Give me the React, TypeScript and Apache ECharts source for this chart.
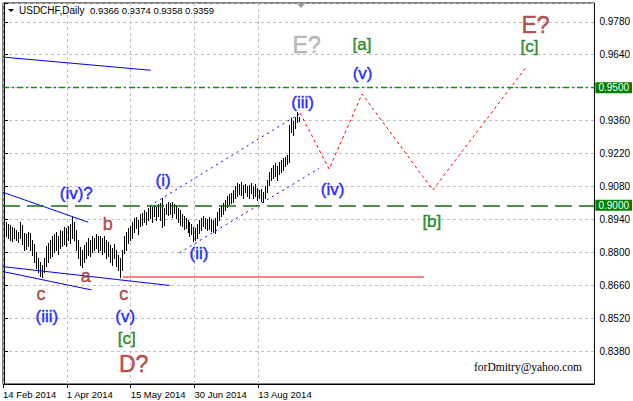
import React, { useEffect, useRef } from 'react';
import * as echarts from 'echarts';

// Daily bars (high / low), one per trading day from 14 Feb 2014
const highs = [
  0.8925, 0.8929, 0.8920, 0.8916, 0.8908, 0.8903, 0.8895, 0.8886, 0.8929, 0.8916,
  0.8882, 0.8878, 0.8886, 0.8882, 0.8852, 0.8835, 0.8801, 0.8776, 0.8759, 0.8746,
  0.8776, 0.8827, 0.8840, 0.8852, 0.8869, 0.8878, 0.8886, 0.8869, 0.8895, 0.8891,
  0.8908, 0.8903, 0.8912, 0.8920, 0.8950, 0.8929, 0.8895, 0.8852, 0.8823, 0.8810,
  0.8831, 0.8844, 0.8861, 0.8852, 0.8869, 0.8861, 0.8878, 0.8869, 0.8869, 0.8861,
  0.8869, 0.8852, 0.8844, 0.8831, 0.8818, 0.8835, 0.8810, 0.8788, 0.8776, 0.8810,
  0.8869, 0.8886, 0.8903, 0.8912, 0.8929, 0.8946, 0.8950, 0.8937, 0.8963, 0.8967,
  0.8980, 0.8971, 0.8988, 0.8997, 0.8993, 0.9001, 0.8993, 0.9005, 0.9010, 0.9031,
  0.8988, 0.9005, 0.9014, 0.9010, 0.9014, 0.9005, 0.9001, 0.8988, 0.8980, 0.8963,
  0.8954, 0.8946, 0.8937, 0.8929, 0.8920, 0.8908, 0.8903, 0.8920, 0.8937, 0.8946,
  0.8954, 0.8946, 0.8942, 0.8950, 0.8942, 0.8937, 0.8946, 0.8971, 0.8988, 0.9001,
  0.9010, 0.9022, 0.9039, 0.9048, 0.9052, 0.9065, 0.9082, 0.9095, 0.9090, 0.9099,
  0.9086, 0.9090, 0.9082, 0.9086, 0.9095, 0.9082, 0.9090, 0.9073, 0.9065, 0.9069,
  0.9056, 0.9082, 0.9107, 0.9141, 0.9158, 0.9171, 0.9180, 0.9167, 0.9184, 0.9192,
  0.9201, 0.9205, 0.9214, 0.9341, 0.9371, 0.9358, 0.9375, 0.9397, 0.9374,
];
const lows = [
  0.8891, 0.8869, 0.8861, 0.8852, 0.8848, 0.8861, 0.8852, 0.8844, 0.8861, 0.8835,
  0.8810, 0.8814, 0.8827, 0.8810, 0.8788, 0.8759, 0.8733, 0.8716, 0.8699, 0.8695,
  0.8716, 0.8742, 0.8759, 0.8776, 0.8784, 0.8801, 0.8810, 0.8793, 0.8818, 0.8827,
  0.8835, 0.8827, 0.8852, 0.8840, 0.8861, 0.8852, 0.8810, 0.8776, 0.8746, 0.8737,
  0.8759, 0.8776, 0.8788, 0.8784, 0.8801, 0.8810, 0.8818, 0.8801, 0.8810, 0.8793,
  0.8801, 0.8776, 0.8784, 0.8759, 0.8746, 0.8776, 0.8742, 0.8725, 0.8695, 0.8725,
  0.8797, 0.8810, 0.8840, 0.8852, 0.8861, 0.8886, 0.8903, 0.8878, 0.8912, 0.8916,
  0.8929, 0.8920, 0.8937, 0.8946, 0.8929, 0.8954, 0.8937, 0.8954, 0.8937, 0.8908,
  0.8916, 0.8963, 0.8959, 0.8963, 0.8950, 0.8967, 0.8946, 0.8929, 0.8916, 0.8912,
  0.8899, 0.8903, 0.8886, 0.8869, 0.8878, 0.8848, 0.8852, 0.8861, 0.8882, 0.8895,
  0.8912, 0.8903, 0.8895, 0.8899, 0.8891, 0.8886, 0.8882, 0.8916, 0.8937, 0.8954,
  0.8963, 0.8980, 0.8993, 0.9005, 0.9010, 0.9014, 0.9031, 0.9039, 0.9048, 0.9044,
  0.9031, 0.9056, 0.9039, 0.9031, 0.9052, 0.9031, 0.9039, 0.9022, 0.9031, 0.9018,
  0.9014, 0.9031, 0.9056, 0.9086, 0.9107, 0.9116, 0.9124, 0.9107, 0.9133, 0.9141,
  0.9150, 0.9167, 0.9175, 0.9184, 0.9312, 0.9299, 0.9329, 0.9354, 0.9358,
];

const dateLabels = ['14 Feb 2014', '1 Apr 2014', '15 May 2014', '30 Jun 2014', '13 Aug 2014'];
const dateLabelBars = [0, 32, 64, 96, 128];

const titleSymbol = 'USDCHF,Daily';
const titleOHLC = '0.9366 0.9374 0.9358 0.9359';
const signature = 'forDmitry@yahoo.com';

const levelA = 0.95;
const levelB = 0.9;

// solid blue trend lines (bar index, price)
const trendLines = [
  [[-0.5, 0.963], [73.5, 0.9574]],
  [[-0.5, 0.9055], [42.2, 0.8928]],
  [[-0.5, 0.8739], [83, 0.8659]],
  [[-0.5, 0.8718], [43.9, 0.864]],
];
// dotted blue channel
const channelUpper = [[73, 0.8997], [148, 0.9388]];
const channelLower = [[88, 0.8798], [158, 0.9157]];
// red support line at the May low
const supportLine = [[59.5, 0.8695], [210.5, 0.8695]];
// red dotted projection
const projection = [[148.5, 0.9392], [163, 0.9154], [179.5, 0.9473], [215, 0.9065], [261.5, 0.9584]];

// wave labels
const waveLabelText = ['E?', '(iii)', '[a]', '(v)', 'E?', '[c]', '(iv)', '[b]', '(iv)?', '(i)', 'b', 'a', 'c', '(iii)', 'c', '(v)', '[c]', 'D?', '(ii)'];
const waveLabelX = [151.75, 149.75, 179.5, 179.75, 266.5, 263.5, 164.75, 214.5, 36.25, 79.75, 52, 41, 18.5, 21.5, 60, 60.75, 61.5, 65, 97.75];
const waveLabelY = [0.9682, 0.9439, 0.9684, 0.956, 0.9767, 0.9675, 0.9065, 0.8929, 0.905, 0.9107, 0.892, 0.8699, 0.8623, 0.8525, 0.8623, 0.8529, 0.8433, 0.8325, 0.8795];
const waveLabelKind = ['grayBig', 'blue', 'green', 'blue', 'brownBig', 'green', 'blue', 'green', 'blue', 'blue', 'brown', 'brown', 'brown', 'blue', 'brown', 'blue', 'green', 'brownBig', 'blue'];

const FONT = '"Liberation Sans", Arial, sans-serif';
const kindStyle: Record<string, { color: string; fontSize: number }> = {
  blue: { color: '#0000ff', fontSize: 17 },
  green: { color: '#007a00', fontSize: 17 },
  brown: { color: '#a52a2a', fontSize: 18 },
  brownBig: { color: '#a52a2a', fontSize: 23 },
  grayBig: { color: '#a9a9a9', fontSize: 23 },
};

export default function App() {
  const ref = useRef<HTMLDivElement>(null);
  useEffect(() => {
    if (!ref.current) return;
    const chart = echarts.init(ref.current, null, { renderer: 'svg' });
    const barData = highs.map((h, i) => [i, h, lows[i]]);
    const lineSeries = (data: number[][], color: string, type: any) => ({
      type: 'line',
      data,
      symbol: 'none',
      silent: true,
      lineStyle: { color, width: 1, type },
      z: 3,
    });
    const labelData = waveLabelText.map((t, i) => {
      const st = kindStyle[waveLabelKind[i]];
      return {
        value: [waveLabelX[i], waveLabelY[i]],
        label: {
          show: true,
          formatter: t,
          color: st.color,
          fontSize: st.fontSize,
          fontFamily: FONT,
          textBorderColor: st.color,
          textBorderWidth: 0.5,
          position: 'inside',
          align: 'center',
          verticalAlign: 'middle',
        },
      };
    });
    const levelMark = (value: number, lineType: any, width: number, color: string) => ({
      silent: true,
      symbol: ['none', 'none'],
      data: [{ yAxis: value }],
      lineStyle: { color, type: lineType, width, opacity: 1 },
      label: {
        show: true,
        position: 'end',
        distance: 1,
        formatter: () => value.toFixed(4),
        color: '#ffffff',
        backgroundColor: '#008000',
        padding: [1, 3, 0, 3],
        fontSize: 10,
        lineHeight: 10,
        fontFamily: FONT,
      },
    });
    chart.setOption({
      animation: false,
      backgroundColor: '#ffffff',
      grid: { left: 3, top: 3, right: 37, bottom: 17, show: true, borderColor: '#000', borderWidth: 1, backgroundColor: 'transparent' },
      xAxis: {
        type: 'value',
        min: -0.5,
        max: 296,
        interval: 16,
        axisLine: { show: true, lineStyle: { color: '#000' } },
        axisTick: { show: true, length: 4, lineStyle: { color: '#000' }, customValues: dateLabelBars.map((b) => b - 0.5) },
        splitLine: { show: true, lineStyle: { color: '#c0c0c0', type: [3, 3], width: 1 } },
        axisLabel: {
          color: '#000',
          fontSize: 9.5,
          fontFamily: FONT,
          align: 'left',
          margin: 5,
          formatter: (v: number) => {
            const k = dateLabelBars.indexOf(Math.round(v + 0.5));
            return k >= 0 ? dateLabels[k] : '';
          },
        },
      },
      yAxis: {
        type: 'value',
        position: 'right',
        min: 0.824,
        max: 0.986,
        interval: 0.014,
        axisLine: { show: true, lineStyle: { color: '#000' } },
        axisTick: { show: true, length: 4, lineStyle: { color: '#000' } },
        splitLine: { show: true, lineStyle: { color: '#c0c0c0', type: [3, 3], width: 1 } },
        axisLabel: {
          color: '#000',
          fontSize: 10,
          fontFamily: FONT,
          margin: 5,
          formatter: (v: number) => (v > 0.83 && v < 0.98 ? v.toFixed(4) : ''),
        },
      },
      series: [
        {
          type: 'custom',
          data: barData,
          encode: { x: 0, y: [1, 2] },
          silent: true,
          z: 2,
          renderItem: (params: any, api: any) => {
            const i = api.value(0);
            const top = api.coord([i, api.value(1)]);
            const bot = api.coord([i, api.value(2)]);
            const x = Math.round(top[0]) + 0.5;
            return {
              type: 'line',
              shape: { x1: x, y1: Math.round(top[1]), x2: x, y2: Math.round(bot[1]) + 1 },
              style: { stroke: '#000', lineWidth: 1 },
            };
          },
        },
        { type: 'line', data: [], symbol: 'none', silent: true, z: 1, color: '#109010', markLine: levelMark(levelA, [6, 3, 2, 3], 1.3, '#109010') },
        { type: 'line', data: [], symbol: 'none', silent: true, z: 1, color: '#107010', markLine: levelMark(levelB, [17, 7], 1.6, '#107010') },
        ...trendLines.map((l) => lineSeries(l, '#0000ff', 'solid')),
        lineSeries(channelUpper, '#0000ff', [2, 4]),
        lineSeries(channelLower, '#0000ff', [2, 4]),
        lineSeries(supportLine, '#ff0000', 'solid'),
        lineSeries(projection, '#ff0000', [3, 3]),
        {
          type: 'scatter',
          data: labelData,
          symbolSize: 1,
          itemStyle: { color: 'rgba(0,0,0,0)' },
          silent: true,
          z: 5,
        },
      ],
      graphic: [
        { type: 'polygon', shape: { points: [[8, 9], [14, 9], [11, 12]] }, style: { fill: '#000' }, silent: true },
        { type: 'polygon', shape: { points: [[297, 4], [305, 4], [301, 8]] }, style: { fill: '#a0a0a0' }, silent: true },
        { type: 'text', left: 19, top: 5, style: { text: titleSymbol, fill: '#000', font: `10px ${FONT}` }, silent: true },
        { type: 'text', left: 90, top: 5, style: { text: titleOHLC, fill: '#000', font: `9.5px ${FONT}` }, silent: true },
        { type: 'text', left: 474, top: 361, style: { text: signature, fill: '#000', font: `11.5px "Liberation Serif", "Times New Roman", serif` }, silent: true },
      ],
    });
    return () => chart.dispose();
  }, []);
  return <div ref={ref} style={{ position: 'fixed', left: 0, top: 0, width: 633, height: 401, background: '#fff' }} />;
}
